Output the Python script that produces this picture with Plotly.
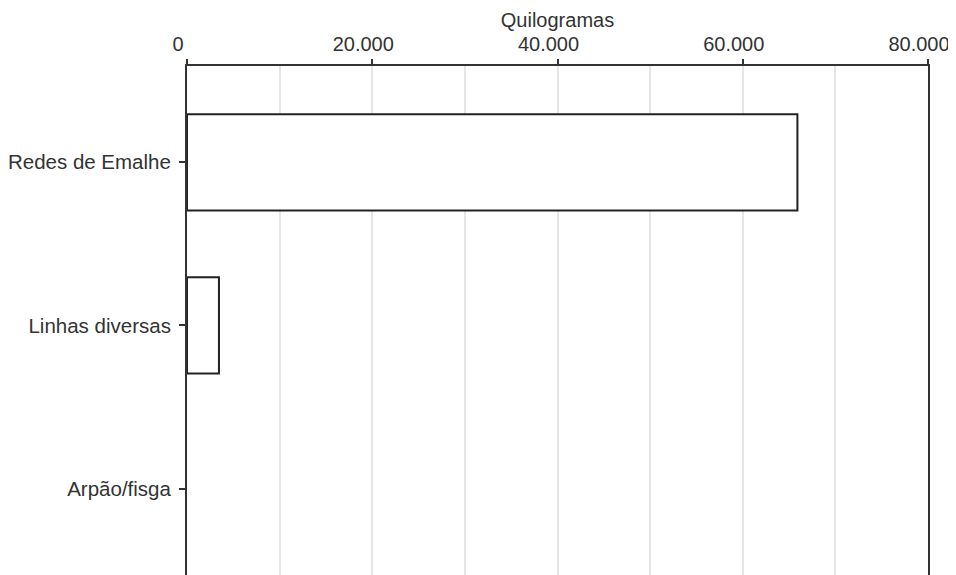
import plotly.graph_objects as go

categories = ["Redes de Emalhe", "Linhas diversas", "Arpão/fisga"]
values = [65900, 3450, 0]
tick_vals = [0, 20000, 40000, 60000, 80000]
tick_text = ["0", "20.000", "40.000", "60.000", "80.000"]
axis_title = "Quilogramas"

font_family = "Liberation Sans, Arial, sans-serif"
text_color = "#333333"

fig = go.Figure(
    go.Bar(
        x=values,
        y=categories,
        orientation="h",
        width=0.59,
        marker=dict(color="white", line=dict(color="#222222", width=[2, 2, 0])),
        hoverinfo="x+y",
    )
)

# page body has an 8px default margin, so the figure is sized/offset to compensate
fig.update_layout(
    width=948,
    height=567,
    margin=dict(l=179, r=28, t=58, b=0, pad=0, autoexpand=False),
    paper_bgcolor="white",
    plot_bgcolor="white",
    separators=",.",
    showlegend=False,
    font=dict(family=font_family, size=20, color=text_color),
)

fig.update_xaxes(
    side="top",
    range=[0, 80000],
    tickvals=tick_vals,
    ticktext=tick_text,
    ticks="outside",
    ticklen=5,
    tickwidth=1.5,
    tickcolor="#333333",
    ticklabelshift=-9,
    showgrid=False,
    zeroline=False,
    showline=True,
    linecolor="#333333",
    linewidth=2,
    minor=dict(dtick=10000, tick0=0, showgrid=True, gridcolor="#e6e6e6", gridwidth=1.5, ticks=""),
    title=dict(text=axis_title, font=dict(size=20, color=text_color), standoff=0),
    tickfont=dict(size=20, color=text_color),
    automargin=False,
)

fig.update_yaxes(
    range=[2.53, -0.59],
    ticks="outside",
    ticklen=6,
    tickwidth=1.5,
    tickcolor="#333333",
    showline=True,
    mirror=True,
    linecolor="#333333",
    linewidth=2,
    showgrid=False,
    zeroline=False,
    tickfont=dict(size=20.5, color=text_color),
    ticklabelstandoff=4,
    automargin=False,
)

fig.write_html("out.html")
